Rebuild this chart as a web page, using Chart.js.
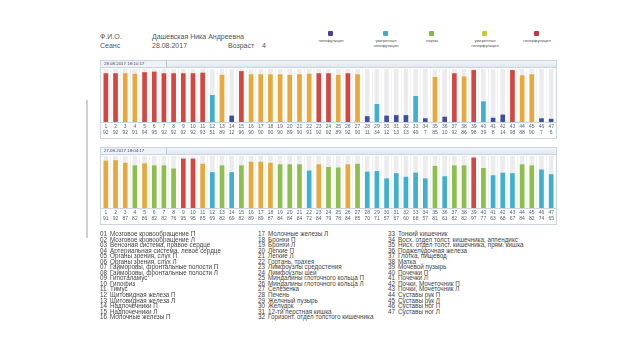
<!DOCTYPE html>
<html>
<head>
<meta charset="utf-8">
<script src="https://cdn.jsdelivr.net/npm/chart.js@4.4.1/dist/chart.umd.min.js"></script>
<style>
  body { margin: 0; width: 640px; height: 360px; background: #fff; font-family: "Liberation Sans", Arial, sans-serif; color: #555; position: relative; overflow: hidden; }
  .abs { position: absolute; white-space: nowrap; }
  .hdr { font-size: 7px; }
  .leg { font-size: 4.2px; text-align: center; line-height: 5px; width: 50px; }
  .sq { position: absolute; width: 5px; height: 5px; border-radius: 1px; }
  .panel { position: absolute; left: 100px; width: 455px; border: 1px solid #c9d5e1; background: #fff; }
  .bar { height: 6px; background: linear-gradient(#f2f6fa, #dfe7ef); border-bottom: 1px solid #c9d5e1; position: relative; }
  .tab { position: absolute; left: 0; top: 0; height: 6px; width: 62px; border-right: 1px solid #b9c7d5; font-size: 4.4px; line-height: 6px; padding-left: 3px; color: #446; background: #eef3f8; }
  .panel canvas { display: block; }
  .list { position: absolute; top: 231px; font-size: 6.3px; line-height: 5.55px; color: #444; }
  .list span { display: inline-block; width: 10px; }
</style>
</head>
<body>
<div class="abs" style="left:86px;top:100px;width:2px;height:138px;background:#d0d0d0"></div>

<div class="abs hdr" style="left:100px;top:33px">Ф.И.О.</div>
<div class="abs hdr" style="left:152px;top:33px">Дашевская Ника Андреевна</div>
<div class="abs hdr" style="left:100px;top:42px">Сеанс</div>
<div class="abs hdr" style="left:152px;top:42px">28.08.2017</div>
<div class="abs hdr" style="left:228px;top:42px">Возраст</div>
<div class="abs hdr" style="left:262px;top:42px">4</div>
<div id="legend"></div>

<div class="panel" style="top:60px">
  <div class="bar"><div class="tab">28.08.2017 18:10:17</div></div>
  <div style="height:70px"><canvas id="chart1"></canvas></div>
</div>
<div class="panel" style="top:147px">
  <div class="bar"><div class="tab">27.08.2017 18:04:17</div></div>
  <div style="height:69px"><canvas id="chart2"></canvas></div>
</div>

<div class="list" id="col1" style="left:100px"></div>
<div class="list" id="col2" style="left:258px"></div>
<div class="list" id="col3" style="left:388px"></div>

<script>
const levelNames = [['гипофункция'], ['умеренная', 'гипофункция'], ['норма'], ['умеренная', 'гиперфункция'], ['гиперфункция']];
const levelColors = ['#3f4ea5', '#3fb0d2', '#8dc04b', '#e8a83a', '#d6453f'];
const legendSwatch = ['#4a3f9e', '#3fa9cf', '#7fb94a', '#c9c93e', '#c03a3f'];

const organs = [
  'Мозговое кровообращение П', 'Мозговое кровообращение Л', 'Венозная система, правое сердце',
  'Артериальная система, левое сердце', 'Органы зрения, слух П', 'Органы зрения, слух Л',
  'Гайморовы, фронтальные полости П', 'Гайморовы, фронтальные полости Л', 'Гипоталамус', 'Гипофиз',
  'Тимус', 'Щитовидная железа П', 'Щитовидная железа Л', 'Надпочечники П', 'Надпочечники Л',
  'Молочные железы П', 'Молочные железы Л', 'Бронхи П', 'Бронхи Л', 'Легкие П', 'Легкие Л',
  'Гортань, трахея', 'Лимфоузлы средостения', 'Лимфоузлы шеи', 'Миндалины глоточного кольца П',
  'Миндалины глоточного кольца Л', 'Селезенка', 'Печень', 'Желчный пузырь', 'Желудок',
  '12-ти перстная кишка', 'Горизонт. отдел толстого кишечника', 'Тонкий кишечник',
  'Восх. отдел толст. кишечника, аппендикс', 'Нисх. отдел толст. кишечника, прям. кишка',
  'Поджелудочная железа', 'Глотка, пищевод', 'Матка', 'Мочевой пузырь', 'Почечки П', 'Почечки Л',
  'Почки, Мочеточник П', 'Почки, Мочеточник Л', 'Суставы рук П', 'Суставы рук Л',
  'Суставы ног П', 'Суставы ног Л'
];
const categories = ['1','2','3','4','5','6','7','8','9','10','11','12','13','14','15','16','17','18','19','20','21','22','23','24','25','26','27','28','29','30','31','32','33','34','35','36','37','38','39','40','41','42','43','44','45','46','47'];

const session1Values = [92, 92, 92, 91, 94, 95, 92, 92, 92, 92, 93, 51, 89, 12, 96, 90, 90, 90, 90, 89, 90, 91, 92, 92,
  89, 92, 90, 11, 34, 12, 13, 13, 49, 7, 85, 10, 92, 86, 98, 39, 8, 14, 98, 88, 90, 7, 6];
const session1Levels = [4, 4, 3, 3, 4, 4, 4, 4, 4, 4, 4, 1, 3, 0, 4, 3, 3, 3, 3, 3, 3, 3, 4, 4,
  3, 4, 3, 0, 1, 0, 0, 0, 1, 0, 3, 0, 4, 3, 4, 1, 0, 0, 4, 3, 3, 0, 0];

const session2Values = [91, 92, 87, 82, 86, 82, 82, 76, 95, 95, 85, 69, 82, 69, 82, 89, 89, 87, 84, 84, 84, 72, 84, 79,
  78, 84, 85, 70, 71, 57, 67, 60, 68, 57, 81, 61, 82, 82, 97, 77, 63, 68, 67, 84, 82, 74, 65];
const session2Levels = [3, 3, 3, 2, 3, 2, 2, 2, 4, 4, 3, 1, 2, 1, 2, 3, 3, 3, 2, 2, 2, 1, 3, 2,
  2, 3, 2, 1, 1, 1, 1, 1, 1, 1, 2, 1, 2, 2, 4, 2, 1, 1, 1, 2, 2, 1, 1];

const fullScale = 100;

// легенда уровней
const legendX = [306, 361, 407, 460, 512];
document.getElementById('legend').innerHTML = levelNames.map((name, i) => `
  <div class="sq" style="left:${legendX[i] + 22}px;top:31px;background:${legendSwatch[i]}"></div>
  <div class="abs leg" style="left:${legendX[i]}px;top:38px">${name.join('<br>')}</div>
`).join('');

// список органов
function pad(n) { return n < 10 ? '0' + n : String(n); }
const cols = [[0, 16], [16, 32], [32, 47]];
cols.forEach(([from, to], c) => {
  document.getElementById('col' + (c + 1)).innerHTML = organs.slice(from, to)
    .map((name, i) => `<div><span>${pad(from + i + 1)}</span>${name}</div>`).join('');
});

function makeChart(canvasId, values, levels) {
  const labels = categories.map((cat, i) => [cat, String(values[i])]);
  return new Chart(document.getElementById(canvasId), {
    type: 'bar',
    data: {
      labels,
      datasets: [
        {
          data: values,
          backgroundColor: levels.map((l) => levelColors[l]),
          grouped: false,
          barPercentage: 0.48,
          categoryPercentage: 1,
          order: 0,
        },
        {
          data: categories.map(() => fullScale),
          backgroundColor: '#ececee',
          grouped: false,
          barPercentage: 0.48,
          categoryPercentage: 1,
          order: 1,
        },
      ],
    },
    options: {
      responsive: true,
      maintainAspectRatio: false,
      animation: false,
      events: [],
      layout: { padding: { left: 0, right: 0, top: 1, bottom: 0 } },
      plugins: { legend: { display: false }, tooltip: { enabled: false } },
      scales: {
        x: {
          offset: true,
          grid: { display: true, offset: true, color: '#f1f2f4', drawTicks: false },
          border: { color: '#c9d5e1' },
          ticks: {
            autoSkip: false,
            maxRotation: 0,
            padding: 2,
            color: '#556677',
            font: { size: 5, family: 'Liberation Sans' },
            lineHeight: 1.25,
          },
        },
        y: { display: false, min: 0, max: fullScale },
      },
    },
  });
}

makeChart('chart1', session1Values, session1Levels);
makeChart('chart2', session2Values, session2Levels);
</script>
</body>
</html>
